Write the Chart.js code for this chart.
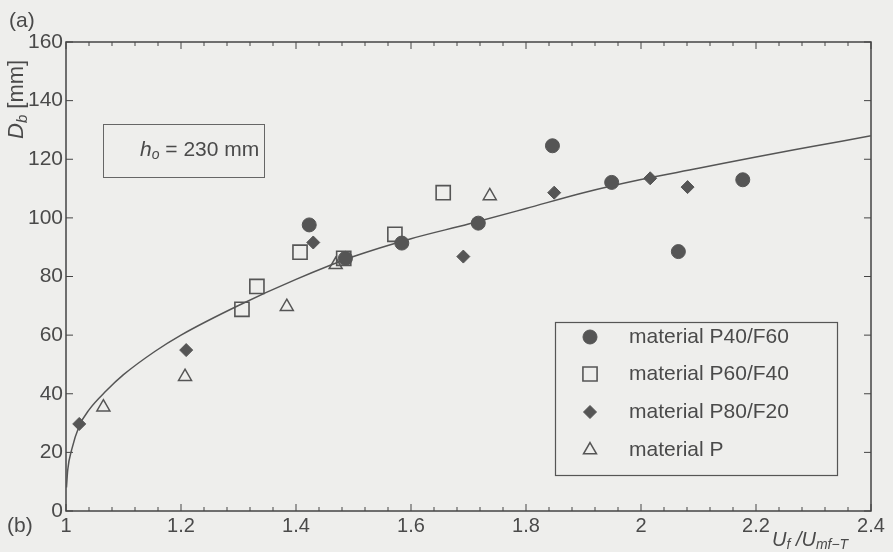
<!DOCTYPE html>
<html>
<head>
<meta charset="utf-8">
<script src="https://cdn.jsdelivr.net/npm/chart.js@4.4.1/dist/chart.umd.min.js"></script>
<style>
  html, body { margin: 0; padding: 0; background: #eeeeec; }
  #wrap { width: 893px; height: 552px; }
</style>
</head>
<body>
<div id="wrap"><canvas id="myChart" width="893" height="552"></canvas></div>
<script>
// values
const xTickValues = [1, 1.2, 1.4, 1.6, 1.8, 2, 2.2, 2.4];
const xTickLabels = ['1', '1.2', '1.4', '1.6', '1.8', '2', '2.2', '2.4'];
const yTickValues = [0, 20, 40, 60, 80, 100, 120, 140, 160];

const seriesNames = ['material P40/F60', 'material P60/F40', 'material P80/F20', 'material P'];

const p40x = [1.423, 1.486, 1.584, 1.717, 1.846, 1.949, 2.065, 2.177];
const p40y = [97.6, 86.2, 91.4, 98.2, 124.6, 112.1, 88.5, 113.0];

const p60x = [1.306, 1.332, 1.407, 1.483, 1.572, 1.656];
const p60y = [68.8, 76.6, 88.3, 86.2, 94.4, 108.6];

const p80x = [1.023, 1.209, 1.430, 1.691, 1.849, 2.016, 2.081];
const p80y = [29.7, 54.9, 91.6, 86.8, 108.6, 113.5, 110.5];

const pX = [1.065, 1.207, 1.384, 1.469, 1.737];
const pY = [35.4, 45.8, 69.7, 84.0, 107.5];

// fitted curve, read at a number of points
const fitX = [1.0008, 1.003, 1.01, 1.023, 1.04, 1.07, 1.1, 1.155, 1.2, 1.3, 1.4, 1.5, 1.6, 1.7, 1.8, 1.9, 2.0, 2.1, 2.2, 2.3, 2.4];
const fitY = [8, 14, 21, 29, 34.5, 41, 46.5, 54.5, 60, 70.1, 79, 86.8, 92.9, 97.9, 103.2, 108.6, 113.1, 116.9, 120.8, 124.4, 128];

const ink = '#555';
const textCol = '#4a4a4a';
const bg = '#eeeeec';
const fontFam = '"Liberation Sans", Arial, sans-serif';

const pts = (xs, ys) => xs.map((x, i) => ({ x: x, y: ys[i] }));

// draw text made of parts (italic, subscript...)
function drawRich(c, parts, x, y) {
    let cx = x;
    parts.forEach(p => {
        c.font = (p.italic ? 'italic ' : '') + p.size + 'px ' + fontFam;
        c.fillText(p.t, cx, y + (p.dy || 0));
        cx += c.measureText(p.t).width;
    });
}

const paperPlugin = {
    id: 'paper',
    beforeDraw(chart) {
        const c = chart.ctx;
        c.save();
        c.fillStyle = bg;
        c.fillRect(0, 0, chart.width, chart.height);
        c.restore();
    },
    beforeDatasetsDraw(chart) {
        const c = chart.ctx;
        const a = chart.chartArea;
        const xs = chart.scales.x;
        const ys = chart.scales.y;
        c.save();
        c.strokeStyle = '#444';
        c.lineWidth = 1.5;
        c.strokeRect(a.left, a.top, a.right - a.left, a.bottom - a.top);

        // inward ticks
        c.lineWidth = 1;
        c.beginPath();
        for (let v = xs.min; v <= xs.max + 1e-9; v += 0.04) {
            const px = xs.getPixelForValue(v);
            const major = Math.abs(v / 0.2 - Math.round(v / 0.2)) < 1e-6;
            const len = major ? 7 : 4;
            c.moveTo(px, a.bottom); c.lineTo(px, a.bottom - len);
            c.moveTo(px, a.top); c.lineTo(px, a.top + len);
        }
        yTickValues.forEach(v => {
            const py = ys.getPixelForValue(v);
            c.moveTo(a.left, py); c.lineTo(a.left + 7, py);
            c.moveTo(a.right, py); c.lineTo(a.right - 7, py);
        });
        c.stroke();
        c.restore();
    },
    afterDraw(chart) {
        const c = chart.ctx;
        c.save();
        c.fillStyle = textCol;
        c.textBaseline = 'alphabetic';

        // panel letters
        c.font = '21px ' + fontFam;
        c.fillText('(a)', 9, 27);
        c.fillText('(b)', 7, 532);

        // axis titles
        drawRich(c, [
            { t: 'U', italic: true, size: 20 },
            { t: 'f', italic: true, size: 14, dy: 3 },
            { t: ' /U', italic: true, size: 20 },
            { t: 'mf\u2212T', italic: true, size: 14, dy: 3 }
        ], 772, 546);

        c.save();
        c.translate(23, 139);
        c.rotate(-Math.PI / 2);
        drawRich(c, [
            { t: 'D', italic: true, size: 22 },
            { t: 'b', italic: true, size: 15, dy: 4 },
            { t: ' [mm]', size: 22 }
        ], 0, 0);
        c.restore();

        // h_o box
        c.strokeStyle = '#666';
        c.lineWidth = 1;
        c.strokeRect(103.5, 124.5, 161, 53);
        drawRich(c, [
            { t: 'h', italic: true, size: 21 },
            { t: 'o', italic: true, size: 14, dy: 3 },
            { t: ' = 230 mm', size: 21 }
        ], 140, 156);

        // legend
        c.strokeStyle = '#555';
        c.lineWidth = 1.2;
        c.strokeRect(555.5, 322.5, 282, 153);
        const rowY = [337, 374, 412, 450];
        chart.data.datasets.slice(0, 4).forEach((ds, i) => {
            c.fillStyle = ds.pointBackgroundColor;
            c.strokeStyle = ds.pointBorderColor;
            c.lineWidth = ds.pointBorderWidth;
            Chart.helpers.drawPoint(c, {
                pointStyle: ds.pointStyle,
                radius: ds.pointRadius,
                rotation: 0,
                borderWidth: ds.pointBorderWidth
            }, 590, rowY[i]);
            c.fillStyle = textCol;
            c.font = '21px ' + fontFam;
            c.textBaseline = 'middle';
            c.fillText(ds.label, 629, rowY[i]);
        });
        c.restore();
    }
};

const ctx = document.getElementById('myChart');

new Chart(ctx, {
    type: 'scatter',
    data: {
        datasets: [{
            label: seriesNames[0],
            data: pts(p40x, p40y),
            pointStyle: 'circle',
            pointRadius: 7,
            pointBackgroundColor: ink,
            pointBorderColor: ink,
            pointBorderWidth: 1,
            order: 1
        }, {
            label: seriesNames[1],
            data: pts(p60x, p60y),
            pointStyle: 'rect',
            pointRadius: 10,
            pointBackgroundColor: 'rgba(0,0,0,0)',
            pointBorderColor: ink,
            pointBorderWidth: 1.6,
            order: 1
        }, {
            label: seriesNames[2],
            data: pts(p80x, p80y),
            pointStyle: 'rectRot',
            pointRadius: 6.5,
            pointBackgroundColor: ink,
            pointBorderColor: ink,
            pointBorderWidth: 1,
            order: 1
        }, {
            label: seriesNames[3],
            data: pts(pX, pY),
            pointStyle: 'triangle',
            pointRadius: 7.5,
            pointBackgroundColor: 'rgba(0,0,0,0)',
            pointBorderColor: ink,
            pointBorderWidth: 1.5,
            order: 1
        }, {
            label: 'fit',
            data: pts(fitX, fitY),
            showLine: true,
            pointRadius: 0,
            borderColor: ink,
            borderWidth: 1.5,
            cubicInterpolationMode: 'monotone',
            order: 10
        }]
    },
    options: {
        responsive: false,
        animation: false,
        layout: { padding: { top: 42, right: 22, left: 0, bottom: 0 } },
        plugins: {
            legend: { display: false },
            tooltip: { enabled: false }
        },
        scales: {
            x: {
                type: 'linear',
                min: 1,
                max: 2.4,
                afterFit: s => { s.height = 41; },
                afterBuildTicks: s => { s.ticks = xTickValues.map(v => ({ value: v })); },
                grid: { display: false, drawTicks: false },
                border: { display: false },
                ticks: {
                    padding: 3,
                    color: textCol,
                    font: { family: fontFam, size: 20 },
                    maxRotation: 0,
                    autoSkip: false,
                    callback: (v, i) => xTickLabels[i]
                }
            },
            y: {
                min: 0,
                max: 160,
                afterFit: s => { s.width = 66; },
                afterBuildTicks: s => { s.ticks = yTickValues.map(v => ({ value: v })); },
                grid: { display: false, drawTicks: false },
                border: { display: false },
                ticks: {
                    padding: 3,
                    color: textCol,
                    font: { family: fontFam, size: 21 },
                    autoSkip: false
                }
            }
        }
    },
    plugins: [paperPlugin]
});
</script>
</body>
</html>
